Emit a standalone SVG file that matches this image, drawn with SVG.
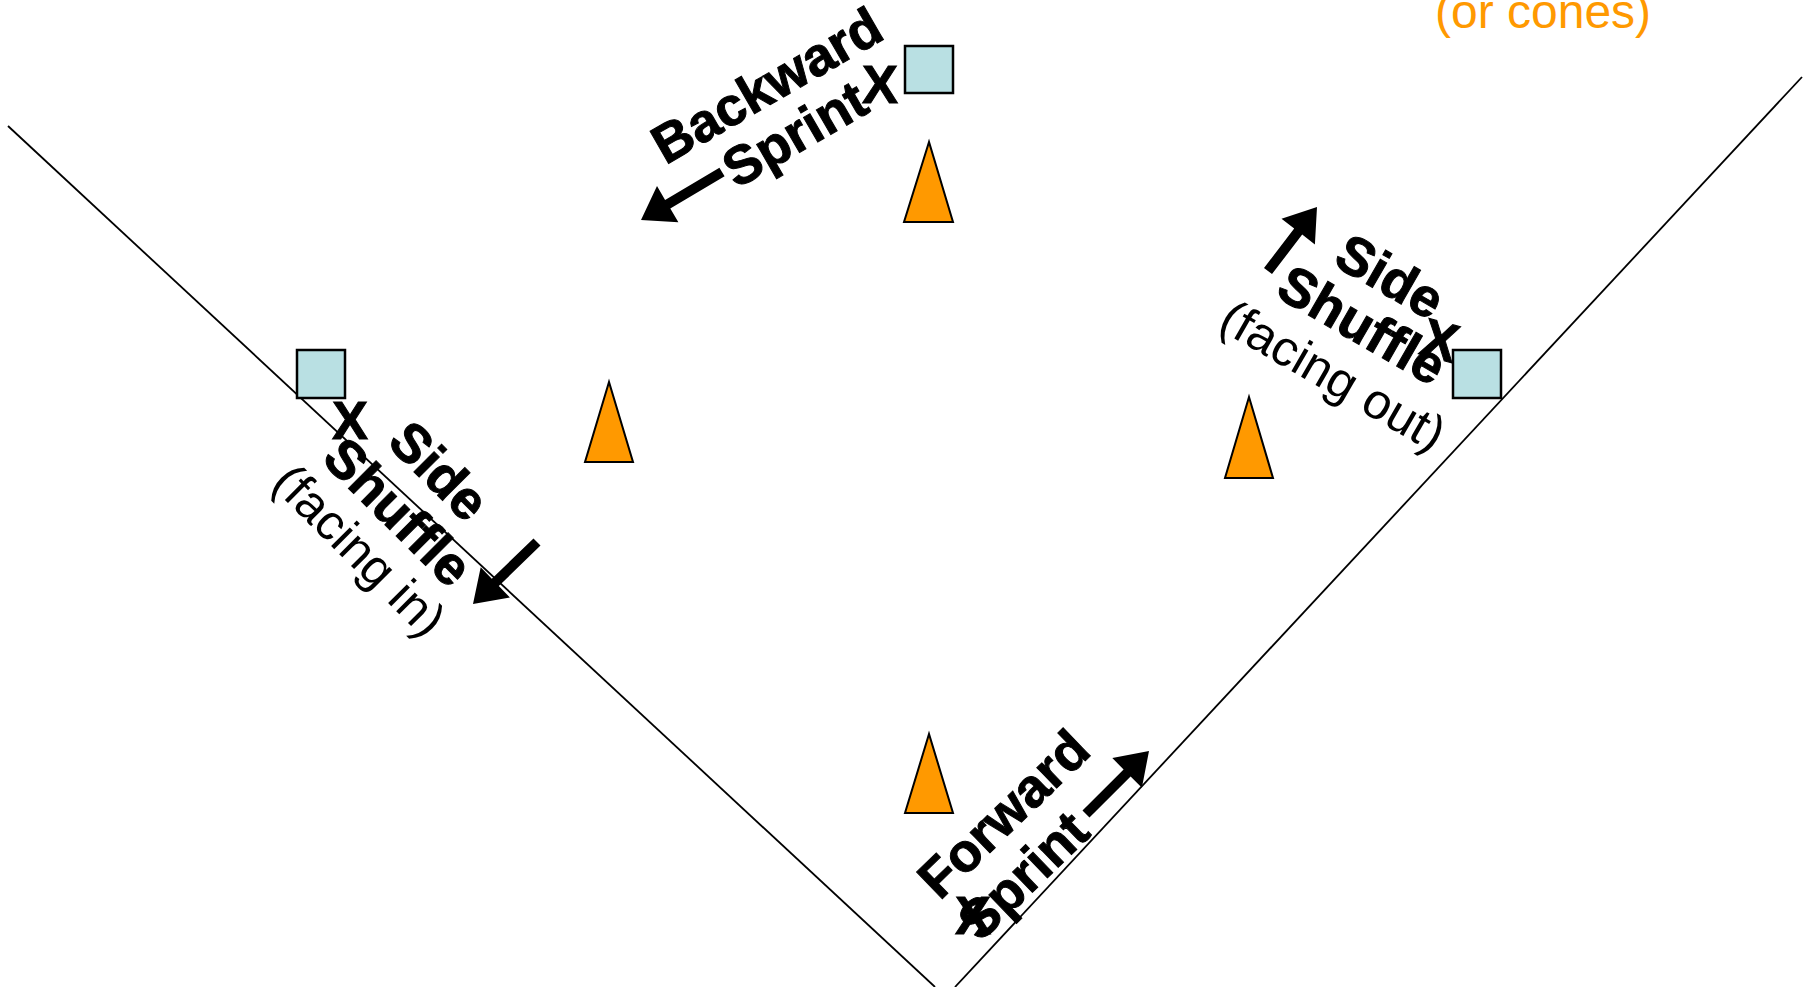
<svg xmlns="http://www.w3.org/2000/svg" width="1808" height="987" viewBox="0 0 1808 987">
<style>
.line{stroke:#000;stroke-width:1.8;fill:none}
.sq{fill:#B9E0E3;stroke:#000;stroke-width:2.5}
.cone{fill:#FF9900;stroke:#000;stroke-width:2}
.arrow{fill:#000;stroke:none}
.b{font-family:"Liberation Sans",Arial,sans-serif;font-weight:bold;font-size:54px;fill:#000;stroke:#000;stroke-width:1}
.r{font-family:"Liberation Sans",Arial,sans-serif;font-size:50px;fill:#000}
.o{font-family:"Liberation Sans",Arial,sans-serif;font-size:48px;fill:#FF9900}
</style>
<rect width="1808" height="987" fill="#fff"/>
<g id="field-lines">
<line class="line" x1="8" y1="126" x2="935" y2="987"/>
<line class="line" x1="1802" y1="77" x2="955" y2="987"/>
</g>
<text id="legend" class="o" x="1435" y="28">(or cones)</text>
<g id="square-top"><rect class="sq" x="905" y="46" width="48" height="47"/></g>
<g id="square-left"><rect class="sq" x="297" y="350" width="48" height="48"/></g>
<g id="square-right"><rect class="sq" x="1453" y="350" width="48" height="48"/></g>
<g id="cone-top"><polygon class="cone" points="929,142 904,222 953,222"/></g>
<g id="cone-left"><polygon class="cone" points="609,382 585,462 633,462"/></g>
<g id="cone-right"><polygon class="cone" points="1249,397 1225,478 1273,478"/></g>
<g id="cone-bottom"><polygon class="cone" points="929,734 905,813 953,813"/></g>
<g id="connectors">
<polygon class="arrow" points="719.4,167.7 665.1,199.9 657.0,186.1 641,220 678.4,222.3 670.3,208.5 724.6,176.3"/>
<polygon class="arrow" points="1272.0,274.0 1302.2,234.6 1314.9,244.4 1317,207 1281.5,218.8 1294.2,228.6 1264.0,268.0"/>
<polygon class="arrow" points="533.5,538.4 491.8,578.8 480.7,567.3 473,604 509.9,597.5 498.8,586.0 540.5,545.6"/>
<polygon class="arrow" points="1089.5,817.5 1130.6,776.4 1141.9,787.7 1149,751 1112.3,758.1 1123.6,769.4 1082.5,810.5"/>
</g>
<g id="label-backward" transform="translate(804,150) rotate(-30)">
<text class="b" text-anchor="middle" x="0" y="-56">Backward</text>
<text class="b" text-anchor="middle" x="0" y="0">Sprint</text>
</g>
<g id="label-side-out" transform="translate(1353,341) rotate(30)">
<text class="b" text-anchor="middle" x="0" y="-56">Side</text>
<text class="b" text-anchor="middle" x="0" y="0">Shuffle</text>
<text class="r" text-anchor="middle" x="0" y="57">(facing out)</text>
</g>
<g id="label-side-in" transform="translate(385,525) rotate(45)">
<text class="b" text-anchor="middle" x="0" y="-58">Side</text>
<text class="b" text-anchor="middle" x="0" y="0">Shuffle</text>
<text class="r" text-anchor="middle" x="0" y="53">(facing in)</text>
</g>
<g id="label-forward" transform="translate(980,943) rotate(-44)">
<text class="b" x="0" y="-58">Forward</text>
<text class="b" x="0" y="0">Sprint</text>
</g>
<g id="players">
<text class="b" text-anchor="middle" transform="translate(880,84)" y="19">X</text>
<text class="b" text-anchor="middle" transform="translate(350,420)" y="19">X</text>
<text class="b" text-anchor="middle" transform="translate(1440,340) rotate(15)" y="19">X</text>
<text class="b" text-anchor="middle" transform="translate(973,915)" y="19">X</text>
</g>
</svg>
